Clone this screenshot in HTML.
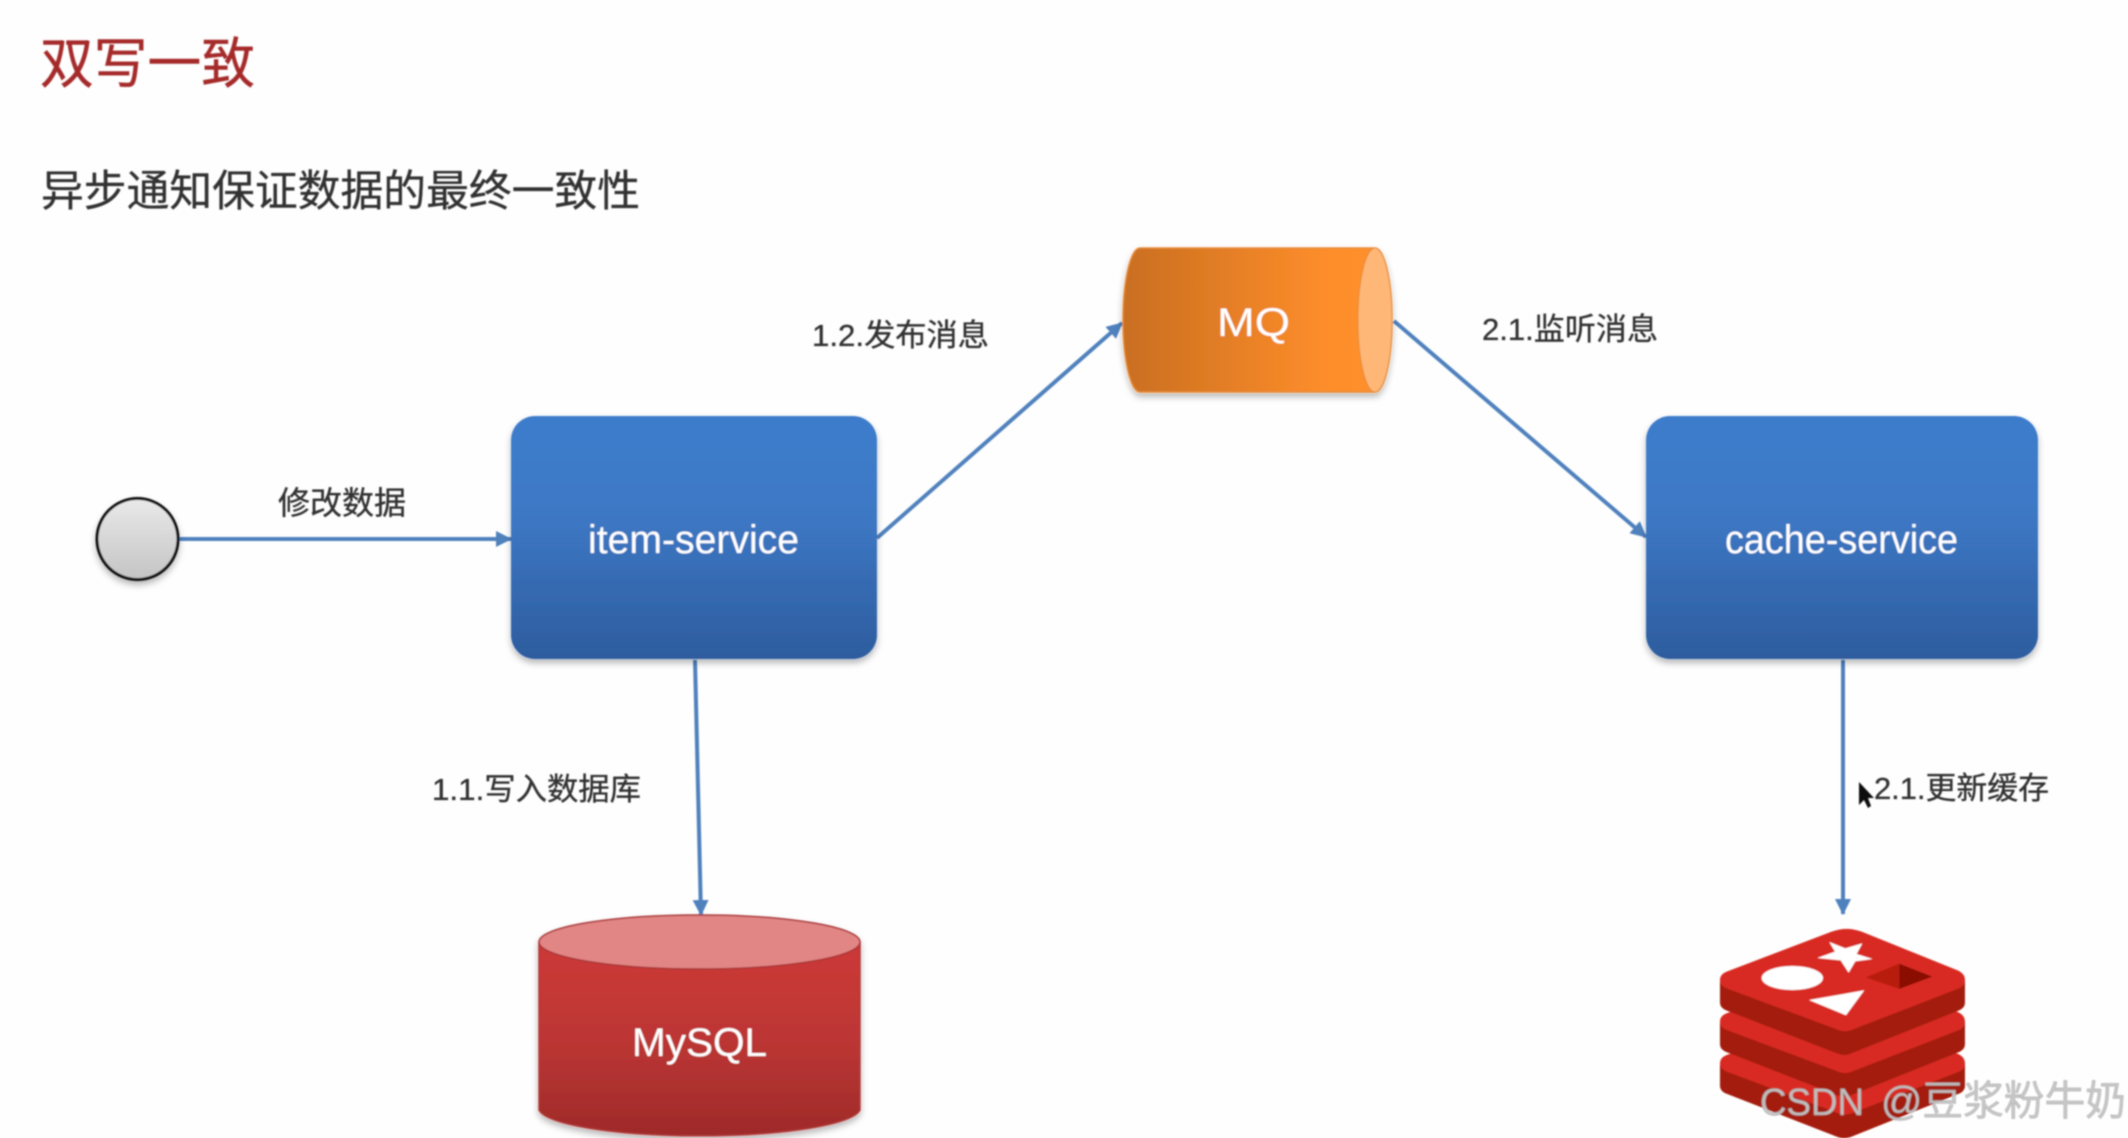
<!DOCTYPE html>
<html lang="zh">
<head>
<meta charset="utf-8">
<title>双写一致</title>
<style>
html,body{margin:0;padding:0;background:#fefefe;width:2128px;height:1138px;overflow:hidden}
svg{display:block;position:absolute;left:0;top:0}
text{font-family:"Liberation Sans","Noto Sans CJK SC",sans-serif}
.cn{font-family:"Liberation Sans","Noto Sans CJK SC",sans-serif;fill:#333;stroke:#333;stroke-width:.35}
.w{fill:#fff;font-size:40px}
</style>
</head>
<body>
<svg width="2128" height="1138" viewBox="0 0 2128 1138" xmlns="http://www.w3.org/2000/svg">
<defs>
<linearGradient id="blue" x1="0" y1="0" x2="0" y2="1"><stop offset="0" stop-color="#3e7ccb"/><stop offset=".4" stop-color="#3d78c5"/><stop offset="1" stop-color="#2d5c9e"/></linearGradient>
<linearGradient id="orange" x1="0" y1="0" x2="1" y2="0"><stop offset="0" stop-color="#c96e20"/><stop offset=".75" stop-color="#fd8d2a"/><stop offset="1" stop-color="#ff902c"/></linearGradient>
<linearGradient id="red" x1="0" y1="0" x2="0" y2="1"><stop offset="0" stop-color="#d03838"/><stop offset=".55" stop-color="#bd3634"/><stop offset="1" stop-color="#9e2a29"/></linearGradient>
<linearGradient id="grey" x1="0" y1="0" x2="0" y2="1"><stop offset="0" stop-color="#e9e9e9"/><stop offset="1" stop-color="#c4c4c4"/></linearGradient>
<filter id="sh" x="-10%" y="-10%" width="120%" height="125%"><feDropShadow dx="0" dy="4" stdDeviation="3.5" flood-color="#000" flood-opacity=".28"/></filter>
<filter id="soft" x="-5%" y="-5%" width="110%" height="110%"><feGaussianBlur stdDeviation=".75"/></filter>
<marker id="ah" markerUnits="userSpaceOnUse" markerWidth="18" markerHeight="18" refX="15" refY="8" orient="auto"><path d="M0 0L16 8L0 16Z" fill="#4f81bd"/></marker>
<g id="layerSide"><path d="M180 600 L180 668 Q180 682 196 690 L530 820 Q552 830 575 820 L900 690 Q915 682 915 668 L915 600 Z" fill="#a41b10"/></g>
<path id="layerTop" d="M180 600 Q180 583 200 575 L515 455 Q560 438 605 455 L895 572 Q915 582 915 600 Q915 618 895 626 L580 748 Q555 760 530 748 L200 625 Q180 617 180 600 Z" fill="#d82c20"/>
</defs>

<g filter="url(#soft)">
<text x="40" y="83" font-size="55" fill="#a62c2c" stroke="#a62c2c" stroke-width=".4" textLength="215" lengthAdjust="spacingAndGlyphs">双写一致</text>
<text class="cn" x="41" y="206" font-size="43" textLength="599" lengthAdjust="spacingAndGlyphs">异步通知保证数据的最终一致性</text>

<text class="cn" x="278" y="514" font-size="32" textLength="128" lengthAdjust="spacingAndGlyphs">修改数据</text>
<text class="cn" x="812" y="346" font-size="31" textLength="177" lengthAdjust="spacingAndGlyphs">1.2.发布消息</text>
<text class="cn" x="1482" y="340" font-size="31" textLength="176" lengthAdjust="spacingAndGlyphs">2.1.监听消息</text>
<text class="cn" x="432" y="800" font-size="31" textLength="209" lengthAdjust="spacingAndGlyphs">1.1.写入数据库</text>
<text class="cn" x="1874" y="799" font-size="31" textLength="175" lengthAdjust="spacingAndGlyphs">2.1.更新缓存</text>

<line x1="179" y1="539" x2="511" y2="539" stroke="#4f81bd" stroke-width="4" marker-end="url(#ah)"/>
<line x1="877" y1="538" x2="1122" y2="323" stroke="#4f81bd" stroke-width="4" marker-end="url(#ah)"/>
<line x1="1394" y1="321" x2="1646" y2="537" stroke="#4f81bd" stroke-width="4" marker-end="url(#ah)"/>
<line x1="695" y1="660" x2="701" y2="915" stroke="#4f81bd" stroke-width="4" marker-end="url(#ah)"/>
<line x1="1843" y1="660" x2="1843" y2="914" stroke="#4f81bd" stroke-width="4" marker-end="url(#ah)"/>

<circle cx="137.5" cy="539" r="40.5" fill="url(#grey)" stroke="#111" stroke-width="3" filter="url(#sh)"/>

<rect x="511" y="416" width="366" height="243" rx="24" fill="url(#blue)" filter="url(#sh)"/>
<text class="w" x="588" y="553" textLength="211" lengthAdjust="spacingAndGlyphs">item-service</text>

<rect x="1646" y="416" width="392" height="243" rx="24" fill="url(#blue)" filter="url(#sh)"/>
<text class="w" x="1725" y="553" textLength="233" lengthAdjust="spacingAndGlyphs">cache-service</text>

<g filter="url(#sh)">
<path d="M1140 248 L1375 248 A17 72 0 0 1 1375 392 L1140 392 A17 72 0 0 1 1140 248 Z" fill="url(#orange)" stroke="#e68b3a" stroke-width="1.5"/>
<ellipse cx="1375" cy="320" rx="17" ry="72" fill="#ffb777" stroke="#e68b3a" stroke-width="1"/>
</g>
<text class="w" x="1217" y="336" font-size="43" textLength="73" lengthAdjust="spacingAndGlyphs">MQ</text>

<g filter="url(#sh)">
<path d="M539 942 A161 27 0 0 1 860 942 L860 1110 A161 28 0 0 1 539 1110 Z" fill="url(#red)" stroke="#b03a3a" stroke-width="1.5"/>
<ellipse cx="699.5" cy="942" rx="160.5" ry="27" fill="#e28585" stroke="#a93434" stroke-width="1.5"/>
</g>
<text class="w" x="632" y="1056" font-size="42" textLength="135" lengthAdjust="spacingAndGlyphs">MySQL</text>

<g transform="translate(1660 780) scale(.3333)">
<g transform="translate(0 250)"><use href="#layerSide"/><use href="#layerTop"/></g>
<g transform="translate(0 125)"><use href="#layerSide"/><use href="#layerTop"/></g>
<use href="#layerSide"/><use href="#layerTop"/>
<ellipse cx="397" cy="594" rx="92" ry="36" fill="#fff"/>
<path d="M508 486L556 505L607 490L590 522L638 537L586 544L566 578L542 541L472 534L525 515Z" fill="#fff"/>
<path d="M447 660L613 631L558 706Z" fill="#fff"/>
<path d="M617 592L718 551L718 627Z" fill="#b81c10"/>
<path d="M718 551L817 590L718 627Z" fill="#8a0f05"/>
</g>

<path d="M1859 782 L1859 805 L1864 800 L1868 808 L1871 806 L1868 798 L1874 798 Z" fill="#111"/>

<g font-size="38" fill="#c4c4c4" stroke="#999" stroke-width=".4" opacity=".95">
<text x="1760" y="1115" textLength="104" lengthAdjust="spacingAndGlyphs">CSDN</text>
<text x="1881" y="1115" textLength="245" lengthAdjust="spacingAndGlyphs" font-size="41">@豆浆粉牛奶</text>
</g>
</g>
</svg>
</body>
</html>
